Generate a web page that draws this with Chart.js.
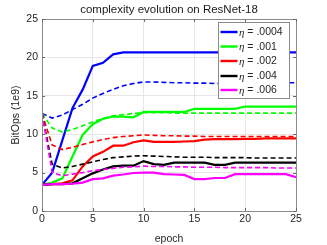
<!DOCTYPE html>
<html>
<head>
<meta charset="utf-8">
<script src="https://cdn.jsdelivr.net/npm/chart.js@4"></script>
<style>
html,body{margin:0;padding:0;background:#fff;}
#wrap{width:327px;height:245px;position:relative;}
</style>
</head>
<body>
<div id="wrap"><canvas id="c" width="327" height="245"></canvas></div>
<script>
const epochs = [0,1,2,3,4,5,6,7,8,9,10,11,12,13,14,15,16,17,18,19,20,21,22,23,24,25];
const seriesLabels = ["η = .0004", "η = .001", "η = .002", "η = .004", "η = .006"];
const seriesColors = ["#0000ff", "#00ff00", "#ff0000", "#000000", "#ff00ff"];
const blueSolid = [3.4,5.0,9.2,13.4,15.8,18.9,19.3,20.4,20.65,20.65,20.65,20.65,20.65,20.65,20.65,20.65,20.65,20.65,20.65,20.65,20.65,20.65,20.65,20.65,20.65,20.65];
const blueDashed = [12.7,12.1,12.5,13.2,13.9,14.7,15.3,15.85,16.3,16.6,16.8,16.8,16.75,16.7,16.7,16.65,16.65,16.6,16.6,16.6,16.6,16.65,16.65,16.7,16.7,16.7];
const greenSolid = [3.4,3.7,4.25,7.1,9.9,11.3,12.0,12.3,12.3,12.2,12.9,12.9,12.9,12.9,12.9,13.3,13.3,13.3,13.3,13.3,13.6,13.6,13.6,13.6,13.6,13.6];
const greenDashed = [12.7,10.8,10.3,10.6,11.1,11.6,12.05,12.4,12.55,12.7,12.8,12.8,12.8,12.75,12.75,12.75,12.75,12.75,12.75,12.75,12.75,12.75,12.75,12.75,12.75,12.75];
const redSolid = [3.4,3.5,3.6,4.0,5.8,7.1,7.7,8.5,8.5,8.95,9.2,9.0,9.0,9.0,9.05,9.1,9.3,9.35,9.35,9.35,9.4,9.4,9.45,9.45,9.45,9.45];
const redDashed = [12.7,8.6,8.0,8.3,8.65,9.0,9.3,9.55,9.7,9.8,9.9,9.85,9.8,9.8,9.75,9.75,9.7,9.7,9.7,9.7,9.7,9.7,9.7,9.7,9.7,9.7];
const blackSolid = [3.4,3.5,3.5,3.6,4.25,4.9,5.4,5.8,5.9,5.9,6.5,6.1,6.0,6.3,6.3,6.3,6.3,6.0,6.0,6.3,6.3,6.3,6.3,6.3,6.3,6.3];
const blackDashed = [12.7,6.1,5.6,5.8,6.1,6.4,6.7,6.95,7.05,7.15,7.2,7.15,7.1,7.05,7.0,7.0,7.0,6.95,6.95,6.95,6.95,6.9,6.9,6.9,6.9,6.9];
const magentaSolid = [3.4,3.5,3.5,3.55,3.7,4.15,4.25,4.6,4.75,4.95,5.0,5.0,4.8,4.75,4.7,4.15,4.15,4.3,4.3,4.8,4.8,4.8,4.8,4.8,4.8,4.4];
const magentaDashed = [12.7,5.0,4.6,4.8,5.0,5.25,5.4,5.55,5.7,5.75,5.85,5.8,5.8,5.75,5.75,5.7,5.7,5.7,5.65,5.65,5.65,5.65,5.65,5.6,5.6,5.6];
const yTicks = [0,5,10,15,20,25];
const xTicks = [0,5,10,15,20,25];
const titleText = 'complexity evolution on ResNet-18';

const solids = [blueSolid, greenSolid, redSolid, blackSolid, magentaSolid];
const dashes = [blueDashed, greenDashed, redDashed, blackDashed, magentaDashed];
const toXY = arr => arr.map((v,i) => ({x: epochs[i], y: v}));

const datasets = [];
for (let i = solids.length - 1; i >= 0; i--) {
  datasets.push({label: '', data: toXY(dashes[i]), borderColor: seriesColors[i], borderWidth: 1.6, borderDash: [5,3], pointRadius: 0, fill: false, tension: 0});
}
for (let i = solids.length - 1; i >= 0; i--) {
  datasets.push({label: seriesLabels[i], data: toXY(solids[i]), borderColor: seriesColors[i], borderWidth: 2.2, pointRadius: 0, fill: false, tension: 0});
}

const FONT = '"Liberation Sans", Arial, Helvetica, sans-serif';
const boxPlugin = {
  id: 'boxPlugin',
  afterDraw(chart) {
    const {ctx, chartArea: a} = chart;
    ctx.save();
    // title centred over plot area
    ctx.fillStyle = '#1a1a1a';
    ctx.font = '11.5px ' + FONT;
    ctx.textAlign = 'center';
    ctx.textBaseline = 'middle';
    ctx.fillText(titleText, (a.left + a.right) / 2, 10);
    // axes box
    ctx.strokeStyle = '#8a8a8a';
    ctx.lineWidth = 1;
    ctx.strokeRect(Math.round(a.left)+0.5, Math.round(a.top)+0.5, Math.round(a.right-a.left), Math.round(a.bottom-a.top));
    const xs = chart.scales.x, ys = chart.scales.y;
    ctx.strokeStyle = '#6a6a6a';
    ctx.beginPath();
    xTicks.forEach(t => {
      const px = Math.round(xs.getPixelForValue(t)) + 0.5;
      ctx.moveTo(px, a.bottom); ctx.lineTo(px, a.bottom - 3);
      ctx.moveTo(px, a.top); ctx.lineTo(px, a.top + 3);
    });
    yTicks.forEach(t => {
      const py = Math.round(ys.getPixelForValue(t)) + 0.5;
      ctx.moveTo(a.left, py); ctx.lineTo(a.left + 3, py);
      ctx.moveTo(a.right, py); ctx.lineTo(a.right - 3, py);
    });
    ctx.stroke();
    // legend
    const lx = 218, ly = 22, lw = 71, lh = 76;
    ctx.fillStyle = '#ffffff';
    ctx.fillRect(lx, ly, lw, lh);
    ctx.strokeStyle = '#8a8a8a';
    ctx.strokeRect(lx + 0.5, ly + 0.5, lw, lh);
    const rows = [32, 46.5, 61, 76, 90];
    seriesLabels.forEach((lab, i) => {
      const y = rows[i];
      ctx.strokeStyle = seriesColors[i];
      ctx.lineWidth = 2.4;
      ctx.beginPath(); ctx.moveTo(220.5, y); ctx.lineTo(237.5, y); ctx.stroke();
      ctx.fillStyle = '#262626';
      ctx.textBaseline = 'middle';
      ctx.textAlign = 'left';
      const eta = lab.charAt(0);
      const rest = lab.slice(1);
      ctx.font = 'italic 11px "Liberation Serif", "Times New Roman", serif';
      ctx.fillText(eta, 239, y + 1);
      const w = ctx.measureText(eta).width;
      ctx.font = '10.5px ' + FONT;
      ctx.fillText(rest, 239 + w, y + 0.5);
    });
    ctx.restore();
  }
};

new Chart(document.getElementById('c'), {
  type: 'line',
  data: { datasets },
  options: {
    responsive: false,
    animation: false,
    devicePixelRatio: 1,
    layout: { padding: { left: 0, right: 31, top: 19, bottom: 0 } },
    plugins: {
      legend: { display: false },
      tooltip: { enabled: false },
      title: { display: false }
    },
    scales: {
      x: {
        type: 'linear',
        min: 0, max: 25,
        afterBuildTicks: s => { s.ticks = xTicks.map(v => ({value: v})); },
        ticks: { color: '#262626', font: { family: FONT, size: 10.5 }, padding: 2, maxRotation: 0 },
        grid: { color: '#e6e6e6', drawTicks: false },
        border: { display: false },
        title: { display: true, text: 'epoch', color: '#262626', font: { family: FONT, size: 10.5 }, padding: { top: 0, bottom: 0 } },
        afterFit: s => { s.height = 34; }
      },
      y: {
        type: 'linear',
        min: 0, max: 25,
        afterBuildTicks: s => { s.ticks = yTicks.map(v => ({value: v})); },
        ticks: { color: '#262626', font: { family: FONT, size: 10.5 }, padding: 4 },
        grid: { color: '#e6e6e6', drawTicks: false },
        border: { display: false },
        title: { display: true, text: 'BitOps (1e9)', color: '#262626', font: { family: FONT, size: 10.5 }, padding: { top: 10, bottom: 0 } },
        afterFit: s => { s.width = 42; }
      }
    }
  },
  plugins: [boxPlugin]
});
</script>
</body>
</html>
